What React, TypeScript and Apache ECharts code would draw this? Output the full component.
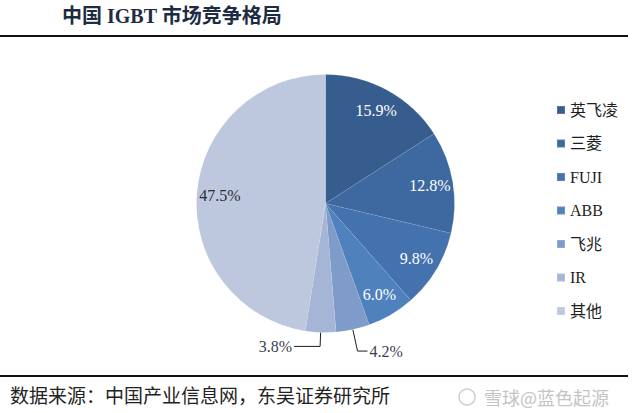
import React, { useEffect, useRef } from "react";
import * as echarts from "echarts";

const TITLE = "中国 IGBT 市场竞争格局";
const SOURCE = "数据来源：中国产业信息网，东吴证券研究所";
const WATERMARK = "雪球@蓝色起源";

const categories = ["英飞凌", "三菱", "FUJI", "ABB", "飞兆", "IR", "其他"];
const shares = [15.9, 12.8, 9.8, 6.0, 4.2, 3.8, 47.5];
const sliceColors = ["#375D8E", "#3D69A0", "#4472AE", "#4F81BD", "#7E9BC9", "#A5B5D5", "#BDC8DE"];
const outsideLabelNames = ["飞兆", "IR"];
const darkLabelNames = ["其他"];

const SERIF = "Liberation Serif, Noto Sans CJK SC, serif";

export default function App() {
  const ref = useRef<HTMLDivElement>(null);

  useEffect(() => {
    if (!ref.current) return;
    const chart = echarts.init(ref.current, null, { renderer: "svg" });
    const fmt = (p: any) => `${Number(p.value).toFixed(1)}%`;

    const mainData = categories.map((name, i) => {
      const outside = outsideLabelNames.includes(name);
      const item: any = {
        name,
        value: shares[i],
        itemStyle: { color: sliceColors[i] },
        label: { show: outside },
        labelLine: { show: outside },
      };
      if (name === "IR") {
        item.labelLine = { show: true, length: 14, length2: 26 };
      }
      if (name === "飞兆") {
        item.labelLine = { show: true, length: 22, length2: 10 };
      }
      return item;
    });

    const overlayData = categories.map((name, i) => ({
      name,
      value: shares[i],
      label: {
        show: !outsideLabelNames.includes(name),
        color: darkLabelNames.includes(name) ? "#2b2b35" : "#ffffff",
      },
    }));

    chart.setOption({
      animation: false,
      backgroundColor: "#ffffff",
      legend: {
        orient: "vertical",
        left: 551,
        top: 97,
        itemWidth: 8,
        itemHeight: 8,
        itemGap: 17.5,
        icon: "rect",
        data: categories,
        textStyle: {
          fontFamily: SERIF,
          fontSize: 16,
          lineHeight: 16,
          color: "#1e1e1e",
        },
      },
      series: [
        {
          type: "pie",
          center: [325.5, 203.5],
          radius: [0, 129],
          startAngle: 90,
          clockwise: true,
          avoidLabelOverlap: false,
          itemStyle: { borderColor: "rgba(255,255,255,0.15)", borderWidth: 0.5 },
          label: {
            position: "outside",
            formatter: fmt,
            fontFamily: SERIF,
            fontSize: 16,
            color: "#3a3f4f",
            distanceToLabelLine: 2,
          },
          labelLine: {
            lineStyle: { color: "#1e1e1e", width: 1 },
          },
          emphasis: { disabled: true },
          data: mainData,
        },
        {
          type: "pie",
          center: [325.5, 203.5],
          radius: [77, 129],
          startAngle: 90,
          clockwise: true,
          silent: true,
          itemStyle: { color: "rgba(0,0,0,0)" },
          label: {
            position: "inside",
            formatter: fmt,
            fontFamily: SERIF,
            fontSize: 16,
          },
          labelLine: { show: false },
          emphasis: { disabled: true },
          data: overlayData,
        },
      ],
      graphic: [
        {
          type: "text",
          left: 62,
          top: 6,
          style: {
            text: TITLE,
            fontFamily: SERIF,
            fontWeight: "bold",
            fontSize: 20,
            fill: "#1d2c42",
          },
        },
        {
          type: "line",
          shape: { x1: 0, y1: 36, x2: 628, y2: 36 },
          style: { stroke: "#111111", lineWidth: 2 },
        },
        {
          type: "line",
          shape: { x1: 0, y1: 376, x2: 628, y2: 376 },
          style: { stroke: "#111111", lineWidth: 2 },
        },
        {
          type: "text",
          left: 10,
          top: 387,
          style: {
            text: SOURCE,
            fontFamily: SERIF,
            fontSize: 19,
            fill: "#222222",
          },
        },
        {
          type: "circle",
          shape: { cx: 467, cy: 397, r: 8 },
          style: { fill: "none", stroke: "#cfcfcf", lineWidth: 1.5 },
        },
        {
          type: "text",
          left: 484,
          top: 388,
          style: {
            text: WATERMARK,
            fontFamily: "Noto Sans CJK SC, sans-serif",
            fontSize: 18,
            fill: "#c4c4c4",
          },
        },
      ],
    });

    return () => chart.dispose();
  }, []);

  return (
    <div
      ref={ref}
      style={{ position: "fixed", left: 0, top: 0, width: 640, height: 413 }}
    />
  );
}
